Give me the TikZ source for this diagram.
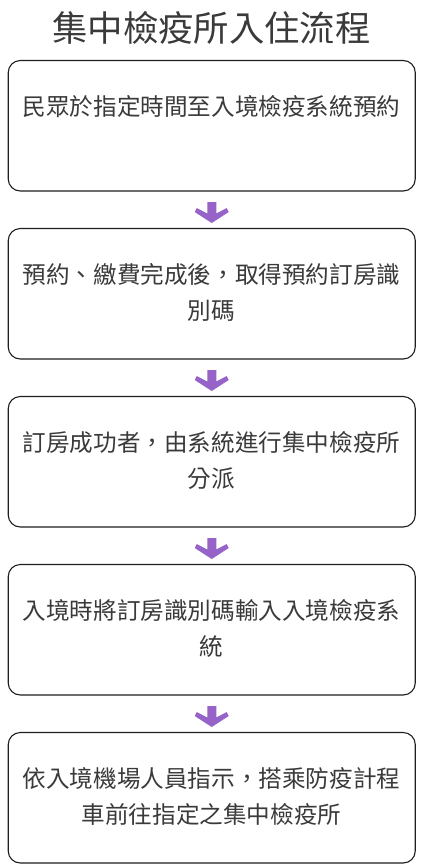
\documentclass[tikz,border=0pt]{standalone}
\usepackage{fontspec}
\setmainfont{Noto Sans CJK TC}
\usetikzlibrary{calc}
\definecolor{txt}{RGB}{58,58,58}
\definecolor{arr}{RGB}{150,100,200}
\definecolor{frame}{RGB}{30,30,30}
\tikzset{
  stepbox/.style={draw=frame, line width=1.1pt, rounded corners=12pt, minimum width=407pt, minimum height=130.5pt, inner sep=0pt},
  steptext/.style={anchor=base, align=center, inner sep=0pt, text=txt, font=\fontsize{23.6pt}{36pt}\selectfont},
  titletext/.style={anchor=base, inner sep=0pt, text=txt, font=\fontsize{35.4pt}{40pt}\selectfont},
  pics/downarrow/.style={code={
    \fill[arr] (-4.5,10.5) -- (4.5,10.5) -- (4.5,-1) -- (15,4.5) -- (17,0.5) -- (0,-10.5) -- (-17,0.5) -- (-15,4.5) -- (-4.5,-1) -- cycle;
  }}
}
\begin{document}
\begin{tikzpicture}[x=1pt,y=1pt]
\useasboundingbox[fill=white] (0,0) rectangle (423,-868);
\node[titletext] (title) at (211.5,-41.5) {集中檢疫所入住流程};
\node[stepbox] (b1) at (211.75,-125.75) {};
\node[stepbox] (b2) at (211.75,-293.75) {};
\node[stepbox] (b3) at (211.75,-461.75) {};
\node[stepbox] (b4) at (211.75,-629.75) {};
\node[stepbox] (b5) at (211.75,-797.75) {};
\node[steptext] (t1) at (211.5,-115) {民眾於指定時間至入境檢疫系統預約};
\node[steptext] (t2) at (211.5,-319) {預約、繳費完成後，取得預約訂房識\\別碼};
\node[steptext] (t3) at (211.5,-487) {訂房成功者，由系統進行集中檢疫所\\分派};
\node[steptext] (t4) at (211.5,-655) {入境時將訂房識別碼輸入入境檢疫系\\統};
\node[steptext] (t5) at (211.5,-823) {依入境機場人員指示，搭乘防疫計程\\車前往指定之集中檢疫所};
\foreach \a/\b in {b1/b2,b2/b3,b3/b4,b4/b5}{
  \pic at ($(\a.south)!0.5!(\b.north)+(0,-2.75)$) {downarrow};
}
\end{tikzpicture}
\end{document}
